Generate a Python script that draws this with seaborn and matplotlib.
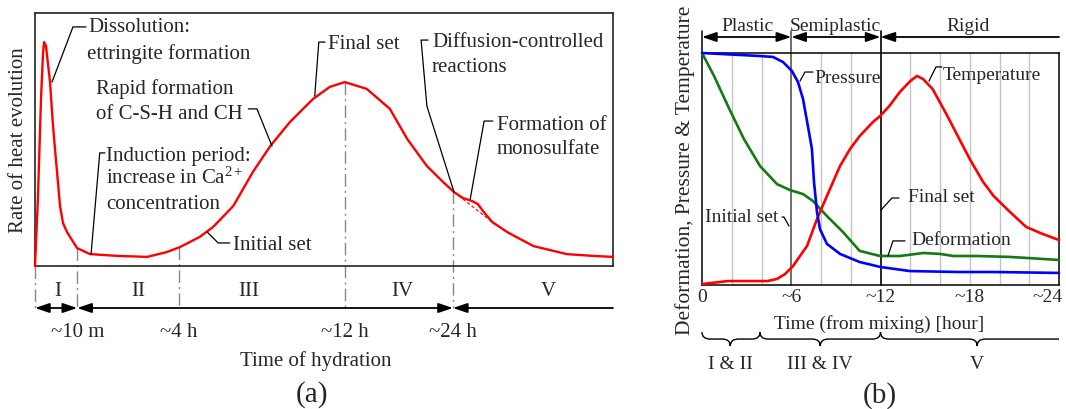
import numpy as np
import matplotlib
matplotlib.use("Agg")
import matplotlib.pyplot as plt
import seaborn as sns
from matplotlib.path import Path
from matplotlib.patches import PathPatch
from matplotlib.transforms import ScaledTranslation

# ---------------- Panel (a): schematic heat evolution ----------------
# x: schematic time position (0-100 across the axis), y: relative rate (0-100)
heat_x = [0, 0.5, 1.04, 1.38, 1.56, 1.9, 2.25, 2.6, 3.1, 3.46, 4.0, 4.33, 4.84, 5.54,
          7.27, 9.52, 14.2, 19.4, 22.8, 25.1, 28.5, 30.8, 34.3, 37.7, 40.7, 44.1, 48.1,
          51.0, 53.6, 57.4, 61.4, 64.4, 67.8, 70.6, 72.5, 74.0, 75.6, 76.6, 77.9, 79.1,
          81.7, 86.2, 92.0, 96.5, 100]
heat_y = [0, 26.5, 66, 83.8, 88.5, 87, 79.8, 72.7, 56, 46.2, 32.4, 23.7, 17, 13.4,
          7.1, 4.7, 4.0, 3.6, 5.5, 7.5, 11.5, 15.4, 23.7, 37.2, 47.4, 56.9, 66.0,
          70.8, 72.7, 70.0, 62.1, 50.2, 39.5, 33.2, 29.2, 26.9, 25.7, 24.5, 20.6, 17.4,
          13.4, 7.9, 4.7, 4.0, 3.6]
mono_base_x = [72.5, 79.1]
mono_base_y = [29.2, 17.4]
stage_bounds = [0, 7.3, 24.9, 53.6, 72.3, 100]
stage_labels = ["I", "II", "III", "IV", "V"]
stage_label_x = [4.0, 17.8, 36.9, 63.5, 88.8]
bound_labels = ["~10 m", "~4 h", "~12 h", "~24 h"]

# ---------------- Panel (b): deformation / pressure / temperature ----------------
press_t = [0, 3.9, 4.77, 5.45, 6.05, 6.45, 6.79, 7.12, 7.39, 7.53, 7.73, 7.93, 8.40,
           9.28, 10.6, 11.97, 13.98, 17.3, 19.6, 24]
press_v = [100, 98.7, 98.3, 96.1, 92.2, 87.5, 80.2, 68.5, 58.6, 44.4, 31.5, 24.1, 17.7,
           13.4, 9.9, 7.8, 6.0, 5.6, 5.6, 5.2]
deform_t = [0, 0.81, 1.74, 2.82, 3.9, 5.04, 5.92, 6.79, 7.46, 8.40, 9.48, 10.6, 11.97,
            13.3, 14.9, 16.0, 16.9, 18.5, 20.7, 24]
deform_v = [100, 90.1, 77.2, 62.9, 51.3, 43.5, 40.9, 39.2, 36.2, 29.7, 22.8, 14.7, 12.5,
            12.5, 13.8, 13.4, 12.5, 12.5, 12.1, 10.8]
temp_t = [0, 1.74, 4.4, 5.04, 5.58, 6.12, 7.06, 7.73, 8.40, 9.28, 9.95, 10.6, 11.5,
          11.97, 12.6, 13.3, 14.0, 14.45, 14.86, 15.5, 16.5, 17.3, 18.0, 18.9, 19.6,
          20.7, 21.8, 22.9, 24]
temp_v = [0.4, 1.7, 1.7, 2.6, 4.7, 8.2, 16.8, 28.4, 38.4, 51.3, 58.6, 64.2, 70.3,
          72.8, 77.2, 83.2, 87.9, 90.1, 88.8, 84.5, 72.8, 62.9, 54.3, 44.4, 38.4,
          31.5, 25.0, 22.0, 19.4]
tick_hours = [0, 6, 12, 18, 24]
tick_labels = ["0", "~6", "~12", "~18", "~24"]
grid_hours = [2, 4, 8, 10, 14, 16, 18, 20, 22]
state_bounds = [0, 6, 12, 24]
state_labels = ["Plastic", "Semiplastic", "Rigid"]
state_label_x = [3.03, 8.94, 17.9]
brace_bounds = [0, 3.9, 12, 24]
brace_tips = [1.9, 7.95, 18.5]
brace_labels = ["I & II", "III & IV", "V"]

# ---------------- style ----------------
sns.set_theme(style="white")
plt.rcParams["font.family"] = ["Liberation Serif", "DejaVu Serif"]
plt.rcParams["mathtext.fontset"] = "custom"
plt.rcParams["mathtext.rm"] = "Liberation Serif"
plt.rcParams["mathtext.it"] = "Liberation Serif:italic"

FS_A = 15
FS_B = 14
HEAD = ",head_length=0.8,head_width=0.27"

fig = plt.figure(figsize=(10.66, 4.10), dpi=100)
axA = fig.add_axes([35 / 1066, (410 - 267) / 410, 578 / 1066, 253 / 410])
axB = fig.add_axes([702 / 1066, (410 - 286) / 410, 357 / 1066, 232 / 410])


def harrow(ax, x0, x1, y, style):
    ax.annotate("", xy=(x1, y), xytext=(x0, y), xycoords="data",
                arrowprops=dict(arrowstyle=style + HEAD, color="black", lw=1.3,
                                shrinkA=0, shrinkB=0, mutation_scale=10.8),
                annotation_clip=False)


def leader(ax, xs, ys):
    ax.plot(xs, ys, color="black", lw=0.9, clip_on=False, zorder=5)


# ================= Panel (a) =================
ax = axA
ax.set_xlim(0, 100)
ax.set_ylim(0, 100)
for s in ax.spines.values():
    s.set_color("#222222")
    s.set_linewidth(1.2)
ax.set_xticks([])
ax.set_yticks([])

sns.lineplot(x=heat_x, y=heat_y, ax=ax, color="#ff0000", lw=1.7, sort=False,
             estimator=None, clip_on=False, zorder=4)
ax.plot(mono_base_x, mono_base_y, color="#ff0000", lw=0.8, ls=(0, (3, 2)), zorder=3)

ARROW_Y_A = -16.6
bound_tops = np.interp(stage_bounds[1:5], heat_x, heat_y)
dd = dict(color="#888888", lw=1.0, ls=(0, (9, 3, 1.5, 3)), clip_on=False, zorder=2)
ax.plot([0, 0], [0, ARROW_Y_A], **dd)
for xb, yt in zip(stage_bounds[1:5], bound_tops):
    ax.plot([xb, xb], [yt, ARROW_Y_A], **dd)

harrow(ax, stage_bounds[0], stage_bounds[1], ARROW_Y_A, "<|-|>")
harrow(ax, stage_bounds[1], stage_bounds[4], ARROW_Y_A, "<|-|>")
harrow(ax, stage_bounds[4], stage_bounds[5], ARROW_Y_A, "<|-")

for lx, lab in zip(stage_label_x, stage_labels):
    ax.text(lx, -11.5, lab, ha="center", va="baseline", fontsize=FS_A)
for xb, lab in zip(stage_bounds[1:5], bound_labels):
    ax.text(xb, -27.7, lab, ha="center", va="baseline", fontsize=FS_A)
ax.text(48.6, -39.1, "Time of hydration", ha="center", va="baseline", fontsize=FS_A)
ax.text(47.9, -50.6, "(a)", ha="center", va="center", fontsize=21)
ax.text(-0.0277, 0.5, "Rate of heat evolution", rotation=90, ha="center", va="center",
        fontsize=FS_A, transform=ax.transAxes)

# annotations (a)
ax.text(9.17, 92.9, "Dissolution:", va="baseline", fontsize=FS_A)
ax.text(9.0, 82.2, "ettringite formation", va="baseline", fontsize=FS_A)
leader(ax, [2.94, 6.57, 8.82], [72.7, 94.5, 94.5])

ax.text(10.55, 68.4, "Rapid formation", va="baseline", fontsize=FS_A)
ax.text(10.55, 58.5, "of C-S-H and CH", va="baseline", fontsize=FS_A)
leader(ax, [36.9, 38.4, 41.0], [62.1, 62.1, 47.4])

ax.text(12.3, 41.9, "Induction period:", va="baseline", fontsize=FS_A)
ax.text(12.3, 32.8, r"increase in Ca$^{\mathrm{2+}}$", va="baseline", fontsize=FS_A)
ax.text(12.3, 22.9, "concentration", va="baseline", fontsize=FS_A)
leader(ax, [12.1, 11.2, 9.7], [44.7, 44.7, 4.7])

ax.text(34.3, 6.7, "Initial set", va="baseline", fontsize=FS_A)
leader(ax, [29.8, 31.7, 33.7], [13.4, 9.1, 9.1])

ax.text(50.7, 86.2, "Final set", va="baseline", fontsize=FS_A)
leader(ax, [48.4, 49.1, 50.2], [67.2, 88.5, 88.5])

ax.text(68.7, 87.0, "Diffusion-controlled", va="baseline", fontsize=FS_A)
ax.text(68.7, 77.1, "reactions", va="baseline", fontsize=FS_A)
leader(ax, [72.5, 67.8, 66.8, 68.0], [29.2, 63.2, 89.3, 89.3])

ax.text(79.9, 54.2, "Formation of", va="baseline", fontsize=FS_A)
ax.text(79.9, 44.7, "monosulfate", va="baseline", fontsize=FS_A)
leader(ax, [75.3, 77.7, 79.2], [26.5, 57.3, 57.3])

# ================= Panel (b) =================
ax = axB
ax.set_xlim(0, 24)
ax.set_ylim(0, 100)
for s in ax.spines.values():
    s.set_color("black")
    s.set_linewidth(1.1)
ax.set_yticks([])
ax.set_xticks(tick_hours)
ax.set_xticklabels(tick_labels, fontsize=FS_B)
ax.tick_params(axis="x", length=0, pad=2)
last = ax.get_xticklabels()[-1]
last.set_ha("right")
last.set_transform(last.get_transform() + ScaledTranslation(4 / 100, 0, fig.dpi_scale_trans))

for g in grid_hours:
    ax.axvline(g, color="#c4c4c4", lw=1.0, zorder=1)

TOP_EXT = 109.6
ax.plot([6, 6], [0, TOP_EXT], color="#555555", lw=1.2, clip_on=False, zorder=2)
ax.plot([12, 12], [0, TOP_EXT], color="black", lw=1.2, clip_on=False, zorder=2)
ax.plot([0, 0], [100, TOP_EXT], color="black", lw=1.1, clip_on=False, zorder=2)

sns.lineplot(x=deform_t, y=deform_v, ax=ax, color="#137a13", lw=1.9, sort=False,
             estimator=None, clip_on=False, zorder=4)
sns.lineplot(x=temp_t, y=temp_v, ax=ax, color="#ff0000", lw=1.9, sort=False,
             estimator=None, clip_on=False, zorder=4)
sns.lineplot(x=press_t, y=press_v, ax=ax, color="#0000ff", lw=1.9, sort=False,
             estimator=None, clip_on=False, zorder=5)

ARROW_Y_B = 106.9
harrow(ax, state_bounds[0], state_bounds[1], ARROW_Y_B, "<|-|>")
harrow(ax, state_bounds[1], state_bounds[2], ARROW_Y_B, "<|-|>")
harrow(ax, state_bounds[2], state_bounds[3], ARROW_Y_B, "<|-")
for lx, lab in zip(state_label_x, state_labels):
    ax.text(lx, 110.1, lab, ha="center", va="baseline", fontsize=FS_B)

ax.text(-0.047, 0.5, "Deformation, Pressure & Temperature", rotation=90, ha="center",
        va="center", fontsize=15.5, transform=ax.transAxes)
ax.text(11.9, -18.3, "Time (from mixing) [hour]", ha="center", va="baseline", fontsize=FS_B)

# braces
Y_TOP, Y_MID, Y_TIP, R = -20.3, -23.3, -26.3, 0.54


def brace(ax, x0, x1, xt, close_right=True):
    verts = [(x0, Y_TOP), (x0, Y_MID), (x0 + R, Y_MID), (xt - R, Y_MID),
             (xt, Y_MID), (xt, Y_TIP), (xt, Y_MID), (xt + R, Y_MID)]
    codes = [Path.MOVETO, Path.CURVE3, Path.CURVE3, Path.LINETO,
             Path.CURVE3, Path.CURVE3, Path.CURVE3, Path.CURVE3]
    if close_right:
        verts += [(x1 - R, Y_MID), (x1, Y_MID), (x1, Y_TOP)]
        codes += [Path.LINETO, Path.CURVE3, Path.CURVE3]
    else:
        verts += [(x1, Y_MID)]
        codes += [Path.LINETO]
    p = PathPatch(Path(verts, codes), fill=False, lw=1.0, ec="black", clip_on=False)
    ax.add_patch(p)


for i in range(3):
    brace(ax, brace_bounds[i], brace_bounds[i + 1], brace_tips[i], close_right=(i < 2))
    ax.text(brace_tips[i], -35.6, brace_labels[i], ha="center", va="baseline", fontsize=FS_B)
ax.text(11.97, -47.0, "(b)", ha="center", va="center", fontsize=21)

# annotations (b)
ax.text(7.53, 87.3, "Pressure", va="baseline", fontsize=FS_B)
leader(ax, [6.59, 6.92, 7.46], [87.9, 91.8, 91.8])
ax.text(16.2, 89.0, "Temperature", va="baseline", fontsize=FS_B)
leader(ax, [15.26, 15.73, 16.13], [87.9, 94.0, 94.0])
ax.text(5.11, 27.8, "Initial set", ha="right", va="baseline", fontsize=FS_B)
leader(ax, [5.38, 5.51, 5.85], [29.3, 29.3, 25.4])
ax.text(13.85, 36.0, "Final set", va="baseline", fontsize=FS_B)
leader(ax, [12.03, 12.77, 13.24], [32.3, 37.5, 37.5])
ax.text(14.05, 17.5, "Deformation", va="baseline", fontsize=FS_B)
leader(ax, [12.5, 12.84, 13.65], [12.5, 19.0, 19.0])

fig.savefig("out.png", dpi=100)
